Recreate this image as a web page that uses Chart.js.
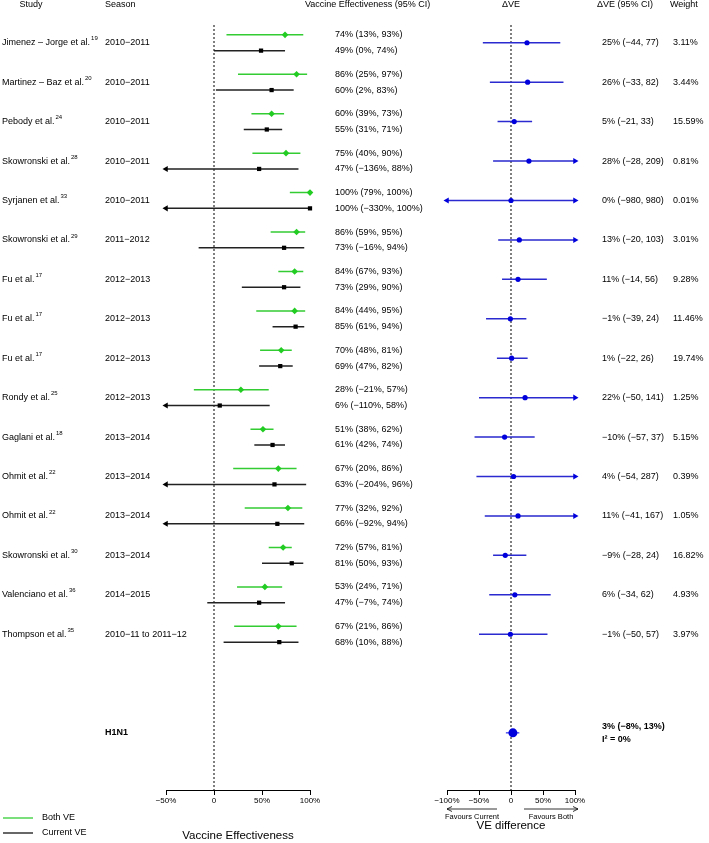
<!DOCTYPE html>
<html>
<head>
<meta charset="utf-8">
<script src="https://cdn.jsdelivr.net/npm/chart.js@4.4.1/dist/chart.umd.min.js"></script>
<style>
    html, body { margin: 0; padding: 0; background: #fff; }
    #wrap { position: relative; width: 709px; height: 843px; }
    #wrap canvas { position: absolute; left: 0; top: 0; }
</style>
</head>
<body>
<div id="wrap">
    <canvas id="veChart" width="709" height="843"></canvas>
    <canvas id="diffChart" width="709" height="843"></canvas>
</div>
<script>
// Study level data
var studies = ['Jimenez \u2013 Jorge et al.', 'Martinez \u2013 Baz et al.', 'Pebody et al.', 'Skowronski et al.',
    'Syrjanen et al.', 'Skowronski et al.', 'Fu et al.', 'Fu et al.', 'Fu et al.', 'Rondy et al.',
    'Gaglani et al.', 'Ohmit et al.', 'Ohmit et al.', 'Skowronski et al.', 'Valenciano et al.', 'Thompson et al.'];
var refs = ['19', '20', '24', '28', '33', '29', '17', '17', '17', '25', '18', '22', '22', '30', '36', '35'];
var seasons = ['2010\u22122011', '2010\u22122011', '2010\u22122011', '2010\u22122011', '2010\u22122011',
    '2011\u22122012', '2012\u22122013', '2012\u22122013', '2012\u22122013', '2012\u22122013',
    '2013\u22122014', '2013\u22122014', '2013\u22122014', '2013\u22122014', '2014\u22122015',
    '2010\u221211 to 2011\u221212'];

// Both VE (green)
var bothVE = [74, 86, 60, 75, 100, 86, 84, 84, 70, 28, 51, 67, 77, 72, 53, 67];
var bothLo = [13, 25, 39, 40, 79, 59, 67, 44, 48, -21, 38, 20, 32, 57, 24, 21];
var bothHi = [93, 97, 73, 90, 100, 95, 93, 95, 81, 57, 62, 86, 92, 81, 71, 86];

// Current VE (black)
var curVE = [49, 60, 55, 47, 100, 73, 73, 85, 69, 6, 61, 63, 66, 81, 47, 68];
var curLo = [0, 2, 31, -136, -330, -16, 29, 61, 47, -110, 42, -204, -92, 50, -7, 10];
var curHi = [74, 83, 71, 88, 100, 94, 90, 94, 82, 58, 74, 96, 94, 93, 74, 88];

// VE difference (blue)
var diffVE = [25, 26, 5, 28, 0, 13, 11, -1, 1, 22, -10, 4, 11, -9, 6, -1];
var diffLo = [-44, -33, -21, -28, -980, -20, -14, -39, -22, -50, -57, -54, -41, -28, -34, -50];
var diffHi = [77, 82, 33, 209, 980, 103, 56, 24, 26, 141, 37, 287, 167, 24, 62, 57];
var weights = [3.11, 3.44, 15.59, 0.81, 0.01, 3.01, 9.28, 11.46, 19.74, 1.25, 5.15, 0.39, 1.05, 16.82, 4.93, 3.97];

// Pooled H1N1 estimate
var pooledLabel = 'H1N1';
var pooled = [3, -8, 13];
var pooledI2 = 0;

// Axis ticks
var veTicks = [-50, 0, 50, 100];
var diffTicks = [-100, -50, 0, 50, 100];

var FONT = '"Liberation Sans", Arial, Helvetica, sans-serif';
var GREEN = '#22cc22';
var BLUE = '#0000dd';

// row positions (row index, green a bit above, black a bit below)
var rowY = studies.map(function (s, i) { return i; });
var bothY = rowY.map(function (y) { return y - 0.2; });
var curY = rowY.map(function (y) { return y + 0.2; });
var pooledY = 17.5;
var Y_MIN = -0.45, Y_MAX = 18.95;

function minus(v) { return (v < 0 ? '\u2212' : '') + Math.abs(v); }
function pct(v) { return v === 0 ? '0' : minus(v) + '%'; }

function points(xs, ys) {
    return xs.map(function (x, i) { return { x: x, y: ys[i] }; });
}

// CI segments clamped to the axis range, broken by gaps
function segments(lo, hi, ys, min, max) {
    var pts = [];
    for (var i = 0; i < lo.length; i++) {
        pts.push({ x: Math.max(lo[i], min), y: ys[i] });
        pts.push({ x: Math.min(hi[i], max), y: ys[i] });
        pts.push({ x: null, y: null });
    }
    return pts;
}

function arrowsLeft(lo, ys, min) {
    var pts = [];
    lo.forEach(function (v, i) { if (v < min) pts.push({ x: min, y: ys[i] }); });
    return pts;
}

function arrowsRight(hi, ys, max) {
    var pts = [];
    hi.forEach(function (v, i) { if (v > max) pts.push({ x: max, y: ys[i] }); });
    return pts;
}

function txt(ctx, s, x, y, size, align, bold) {
    ctx.font = (bold ? 'bold ' : '') + size + 'px ' + FONT;
    ctx.textAlign = align || 'left';
    ctx.textBaseline = 'middle';
    ctx.fillStyle = '#000';
    ctx.fillText(s, x, y);
    return ctx.measureText(s).width;
}

function zeroLine() {
    return {
        data: [{ x: 0, y: Y_MIN }, { x: 0, y: Y_MAX }],
        showLine: true, pointRadius: 0, borderColor: '#000', borderWidth: 1,
        borderDash: [2, 2], order: 10, clip: false
    };
}

function xScale(ticks, height) {
    return {
        type: 'linear',
        min: ticks[0],
        max: ticks[ticks.length - 1],
        afterFit: function (scale) { scale.height = height; },
        afterBuildTicks: function (scale) {
            scale.ticks = ticks.map(function (v) { return { value: v }; });
        },
        grid: { display: true, drawOnChartArea: false, drawTicks: true, tickLength: 5, color: '#000' },
        border: { display: true, color: '#000', width: 1 },
        ticks: {
            autoSkip: false, maxRotation: 0, padding: 1, color: '#000',
            font: { family: FONT, size: 8 },
            callback: function (v) { return pct(v); }
        }
    };
}

var yScale = { type: 'linear', reverse: true, min: Y_MIN, max: Y_MAX, display: false };

// Left panel text: study names, seasons, VE labels, legend
var veText = {
    id: 'veText',
    afterDraw: function (chart) {
        var ctx = chart.ctx, y = chart.scales.y, x = chart.scales.x;
        ctx.save();
        txt(ctx, 'Study', 31, 5, 9, 'center');
        txt(ctx, 'Season', 105, 5, 9);
        txt(ctx, 'Vaccine Effectiveness (95% CI)', 305, 5, 9);
        studies.forEach(function (s, i) {
            var py = y.getPixelForValue(rowY[i]);
            var w = txt(ctx, s, 2, py, 9);
            txt(ctx, refs[i], 3 + w, py - 4, 6);
            txt(ctx, seasons[i], 105, py, 9);
            txt(ctx, pct(bothVE[i]) + ' (' + minus(bothLo[i]) + '%, ' + minus(bothHi[i]) + '%)',
                335, y.getPixelForValue(bothY[i]), 9);
            txt(ctx, pct(curVE[i]) + ' (' + minus(curLo[i]) + '%, ' + minus(curHi[i]) + '%)',
                335, y.getPixelForValue(curY[i]), 9);
        });
        txt(ctx, pooledLabel, 105, y.getPixelForValue(pooledY), 9, 'left', true);

        // legend
        ctx.lineWidth = 1.2;
        ctx.strokeStyle = GREEN;
        ctx.beginPath(); ctx.moveTo(3, 818); ctx.lineTo(33, 818); ctx.stroke();
        ctx.strokeStyle = '#000';
        ctx.beginPath(); ctx.moveTo(3, 833); ctx.lineTo(33, 833); ctx.stroke();
        txt(ctx, 'Both VE', 42, 818, 9);
        txt(ctx, 'Current VE', 42, 833, 9);

        txt(ctx, 'Vaccine Effectiveness', (x.left + x.right) / 2, 836, 11.5, 'center');
        ctx.restore();
    }
};

// Right panel text: ΔVE labels, weights, favours arrows
var diffText = {
    id: 'diffText',
    afterDraw: function (chart) {
        var ctx = chart.ctx, y = chart.scales.y, x = chart.scales.x;
        ctx.save();
        txt(ctx, '\u0394VE', x.getPixelForValue(0), 5, 9, 'center');
        txt(ctx, '\u0394VE (95% CI)', 597, 5, 9);
        txt(ctx, 'Weight', 670, 5, 9);
        diffVE.forEach(function (v, i) {
            var py = y.getPixelForValue(rowY[i]);
            txt(ctx, minus(v) + '% (' + minus(diffLo[i]) + ', ' + minus(diffHi[i]) + ')', 602, py, 9);
            txt(ctx, weights[i].toFixed(2) + '%', 673, py, 9);
        });
        var sy = y.getPixelForValue(pooledY);
        txt(ctx, minus(pooled[0]) + '% (' + minus(pooled[1]) + '%, ' + minus(pooled[2]) + '%)', 602, sy - 6, 9, 'left', true);
        txt(ctx, 'I\u00b2 = ' + pooledI2 + '%', 602, sy + 7, 9, 'left', true);

        // favours arrows
        var ay = 809, x0 = x.getPixelForValue(0);
        var l1 = x.getPixelForValue(-100), l2 = x0 - 14, r1 = x0 + 13, r2 = x.getPixelForValue(100) + 3;
        ctx.strokeStyle = '#000';
        ctx.lineWidth = 0.8;
        ctx.beginPath();
        ctx.moveTo(l1, ay); ctx.lineTo(l2, ay);
        ctx.moveTo(l1 + 5, ay - 2.5); ctx.lineTo(l1, ay); ctx.lineTo(l1 + 5, ay + 2.5);
        ctx.moveTo(r1, ay); ctx.lineTo(r2, ay);
        ctx.moveTo(r2 - 5, ay - 2.5); ctx.lineTo(r2, ay); ctx.lineTo(r2 - 5, ay + 2.5);
        ctx.stroke();
        txt(ctx, 'Favours Current', (l1 + l2) / 2, 817, 7.5, 'center');
        txt(ctx, 'Favours Both', (r1 + r2) / 2, 817, 7.5, 'center');
        txt(ctx, 'VE difference', x0, 826, 11.5, 'center');
        ctx.restore();
    }
};

var common = {
    responsive: false,
    animation: false,
    devicePixelRatio: 1,
    events: [],
    plugins: { legend: { display: false }, tooltip: { enabled: false } }
};

new Chart(document.getElementById('veChart'), {
    type: 'scatter',
    data: {
        datasets: [
            { data: points(bothVE, bothY), pointStyle: 'rectRot', pointRadius: 3.3, backgroundColor: GREEN, borderWidth: 0, order: 0, clip: false },
            { data: points(curVE, curY), pointStyle: 'rect', pointRadius: 3, backgroundColor: '#000', borderWidth: 0, order: 1, clip: false },
            { data: arrowsLeft(curLo, curY, veTicks[0]), pointStyle: 'triangle', rotation: -90, pointRadius: 3.5, backgroundColor: '#000', borderWidth: 0, order: 2, clip: false },
            { data: arrowsRight(curHi, curY, veTicks[veTicks.length - 1]), pointStyle: 'triangle', rotation: 90, pointRadius: 3.5, backgroundColor: '#000', borderWidth: 0, order: 2, clip: false },
            { data: segments(bothLo, bothHi, bothY, veTicks[0], veTicks[veTicks.length - 1]), showLine: true, spanGaps: false, pointRadius: 0, borderColor: '#33cc33', borderWidth: 1.5, order: 5, clip: false },
            { data: segments(curLo, curHi, curY, veTicks[0], veTicks[veTicks.length - 1]), showLine: true, spanGaps: false, pointRadius: 0, borderColor: '#222', borderWidth: 1.5, order: 6, clip: false },
            zeroLine()
        ]
    },
    options: Object.assign({}, common, {
        layout: { padding: { left: 166, right: 399, top: 25, bottom: 0 } },
        scales: { x: xScale(veTicks, 53), y: yScale }
    }),
    plugins: [veText]
});

new Chart(document.getElementById('diffChart'), {
    type: 'scatter',
    data: {
        datasets: [
            { data: points(diffVE, rowY), pointStyle: 'circle', pointRadius: 2.6, backgroundColor: BLUE, borderWidth: 0, order: 0, clip: false },
            { data: [{ x: pooled[0], y: pooledY }], pointStyle: 'circle', pointRadius: 4.5, backgroundColor: BLUE, borderWidth: 0, order: 0, clip: false },
            { data: arrowsLeft(diffLo, rowY, diffTicks[0]), pointStyle: 'triangle', rotation: -90, pointRadius: 3.5, backgroundColor: BLUE, borderWidth: 0, order: 2, clip: false },
            { data: arrowsRight(diffHi, rowY, diffTicks[diffTicks.length - 1]), pointStyle: 'triangle', rotation: 90, pointRadius: 3.5, backgroundColor: BLUE, borderWidth: 0, order: 2, clip: false },
            { data: segments(diffLo, diffHi, rowY, diffTicks[0], diffTicks[diffTicks.length - 1]), showLine: true, spanGaps: false, pointRadius: 0, borderColor: '#2a2ad0', borderWidth: 1.5, order: 5, clip: false },
            { data: segments([pooled[1]], [pooled[2]], [pooledY], diffTicks[0], diffTicks[diffTicks.length - 1]), showLine: true, spanGaps: false, pointRadius: 0, borderColor: '#5555ee', borderWidth: 1.5, order: 5, clip: false },
            zeroLine()
        ]
    },
    options: Object.assign({}, common, {
        layout: { padding: { left: 447, right: 134, top: 25, bottom: 0 } },
        scales: { x: xScale(diffTicks, 53), y: yScale }
    }),
    plugins: [diffText]
});
</script>
</body>
</html>
